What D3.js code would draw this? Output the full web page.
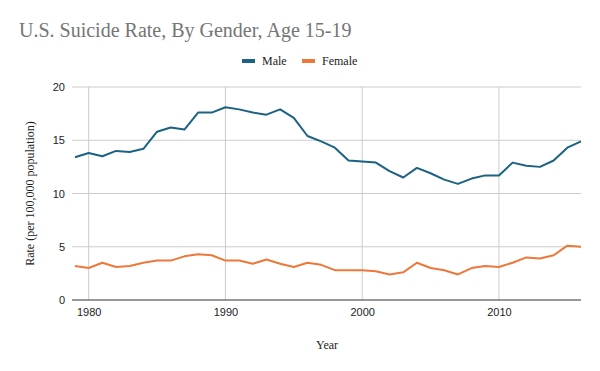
<!DOCTYPE html>
<html>
<head>
<meta charset="utf-8">
<script src="https://cdn.jsdelivr.net/npm/d3@7"></script>
<style>
  body { margin: 0; background: #fff; }
  svg { display: block; }
  .chart-title { font-family: "Liberation Serif", serif; font-size: 20px; fill: #757575; }
  .legend text, .axis-label { font-family: "Liberation Serif", serif; font-size: 12px; fill: #222; }
  .axis text { font-family: "Liberation Sans", sans-serif; font-size: 11px; fill: #222; }
</style>
</head>
<body>
<div id="chart"></div>
<script>
const WIDTH = 600;
const HEIGHT = 371;
const MARGIN = { top: 87, right: 19, bottom: 71, left: 75 };

const years = d3.range(1979, 2017);
const male = [
  13.4, 13.8, 13.5, 14.0, 13.9, 14.2, 15.8, 16.2, 16.0, 17.6,
  17.6, 18.1, 17.9, 17.6, 17.4, 17.9, 17.1, 15.4, 14.9, 14.3,
  13.1, 13.0, 12.9, 12.1, 11.5, 12.4, 11.9, 11.3, 10.9, 11.4,
  11.7, 11.7, 12.9, 12.6, 12.5, 13.1, 14.3, 14.9,
];
const female = [
  3.2, 3.0, 3.5, 3.1, 3.2, 3.5, 3.7, 3.7, 4.1, 4.3,
  4.2, 3.7, 3.7, 3.4, 3.8, 3.4, 3.1, 3.5, 3.3, 2.8,
  2.8, 2.8, 2.7, 2.4, 2.6, 3.5, 3.0, 2.8, 2.4, 3.0,
  3.2, 3.1, 3.5, 4.0, 3.9, 4.2, 5.1, 5.0,
];
const yTicks = [0, 5, 10, 15, 20];
const xTicks = [1980, 1990, 2000, 2010];

const SERIES = [
  { label: "Male", values: male, color: "#1b6283" },
  { label: "Female", values: female, color: "#ee773a" },
];

const innerWidth = WIDTH - MARGIN.left - MARGIN.right;
const innerHeight = HEIGHT - MARGIN.top - MARGIN.bottom;

const svg = d3.select("#chart")
  .append("svg")
  .attr("width", WIDTH)
  .attr("height", HEIGHT);

svg.append("text")
  .attr("class", "chart-title")
  .attr("x", 19)
  .attr("y", 37)
  .text("U.S. Suicide Rate, By Gender, Age 15-19");

const g = svg.append("g")
  .attr("transform", `translate(${MARGIN.left},${MARGIN.top})`);

const x = d3.scaleLinear().domain([1979, 2016]).range([0, innerWidth]);
const y = d3.scaleLinear().domain([0, 20]).range([innerHeight, 0]);

// grid
g.append("g")
  .selectAll("line")
  .data(yTicks.filter((t) => t > 0))
  .join("line")
  .attr("x1", -3)
  .attr("x2", innerWidth)
  .attr("y1", (d) => y(d))
  .attr("y2", (d) => y(d))
  .attr("stroke", "#cccccc");

g.append("g")
  .selectAll("line")
  .data(xTicks)
  .join("line")
  .attr("x1", (d) => x(d))
  .attr("x2", (d) => x(d))
  .attr("y1", 0)
  .attr("y2", innerHeight)
  .attr("stroke", "#cccccc");

// axes
const yAxis = g.append("g")
  .attr("class", "axis")
  .call(d3.axisLeft(y).tickValues(yTicks).tickSize(0).tickPadding(10));
yAxis.select(".domain").remove();

const xAxis = g.append("g")
  .attr("class", "axis")
  .attr("transform", `translate(0,${innerHeight})`)
  .call(d3.axisBottom(x).tickValues(xTicks).tickFormat(d3.format("d")).tickSize(0).tickPadding(8));
xAxis.select(".domain").remove();

g.append("line")
  .attr("x1", -3)
  .attr("x2", innerWidth)
  .attr("y1", innerHeight)
  .attr("y2", innerHeight)
  .attr("stroke", "#333333");

// lines
const line = d3.line()
  .x((d, i) => x(years[i]))
  .y((d) => y(d));

g.selectAll(".series")
  .data(SERIES)
  .join("path")
  .attr("class", "series")
  .attr("fill", "none")
  .attr("stroke", (d) => d.color)
  .attr("stroke-width", 2)
  .attr("stroke-linejoin", "round")
  .attr("d", (d) => line(d.values));

// axis labels
svg.append("text")
  .attr("class", "axis-label")
  .attr("x", 327)
  .attr("y", 349)
  .attr("text-anchor", "middle")
  .text("Year");

svg.append("text")
  .attr("class", "axis-label")
  .attr("transform", `translate(34,${MARGIN.top + innerHeight / 2}) rotate(-90)`)
  .attr("text-anchor", "middle")
  .text("Rate (per 100,000 population)");

// legend
const legend = svg.append("g")
  .attr("class", "legend")
  .attr("transform", "translate(242,61)");

const items = legend.selectAll("g")
  .data(SERIES)
  .join("g")
  .attr("transform", (d, i) => `translate(${i * 60},0)`);

items.append("rect")
  .attr("x", 0)
  .attr("y", -2)
  .attr("width", 13)
  .attr("height", 4)
  .attr("fill", (d) => d.color);

items.append("text")
  .attr("x", 20)
  .attr("y", 4)
  .text((d) => d.label);
</script>
</body>
</html>
